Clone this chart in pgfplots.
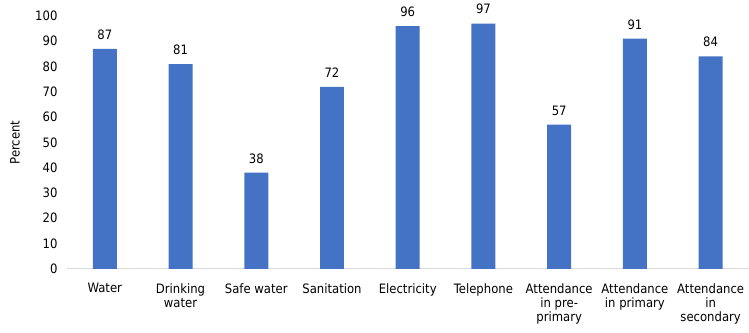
\documentclass[border=0pt]{standalone}
\usepackage{fontspec}
\setmainfont{DejaVu Sans Condensed}
\usepackage{pgfplots}
\pgfplotsset{compat=1.18}
\definecolor{barblue}{HTML}{4472C4}
\definecolor{axgray}{HTML}{D9D9D9}
\begin{document}
\begin{tikzpicture}
\begin{axis}[
  scale only axis,
  width=682bp, height=253bp,
  ymin=0, ymax=100,
  xmin=-0.5, xmax=8.5,
  ytick={0,10,...,100},
  xtick=data,
  xticklabels={Water,Drinking\\water,Safe water,Sanitation,Electricity,Telephone,Attendance\\in pre-\\primary,Attendance\\in primary,Attendance\\in\\secondary},
  xticklabel style={align=center, font=\fontsize{13}{14}\selectfont, yshift=-11bp},
  yticklabel style={font=\fontsize{13}{14}\selectfont, xshift=-6bp},
  /pgf/number format/assume math mode=true,
  axis x line*=bottom, axis y line*=left,
  x axis line style={draw=axgray, line width=1bp, -},
  y axis line style={draw=none},
  major tick length=0pt,
  ylabel={Percent},
  every axis y label/.style={at={(rel axis cs:0,0.5)}, xshift=-52bp, rotate=90, anchor=center, font=\fontsize{13}{14}\selectfont},
  ybar, bar width=24bp,
  nodes near coords,
  nodes near coords style={font=\fontsize{13}{14}\selectfont, /pgf/number format/assume math mode=true, yshift=6bp},
  clip=false,
]
\addplot[fill=barblue, draw=none] coordinates {(0,87) (1,81) (2,38) (3,72) (4,96) (5,97) (6,57) (7,91) (8,84)};
\end{axis}
\useasboundingbox (-67bp,-64bp) rectangle (682bp,269bp);
\end{tikzpicture}
\end{document}
